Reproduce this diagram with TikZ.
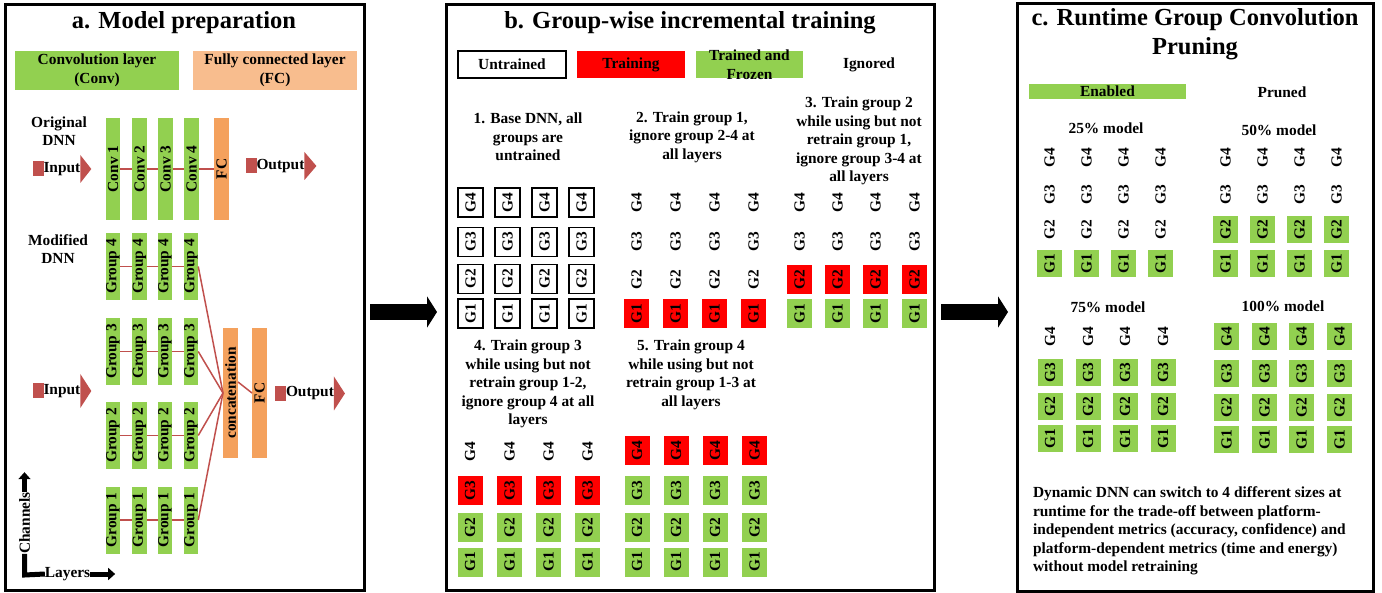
\documentclass[tikz,border=0pt]{standalone}
\usepackage{fontspec}
\setmainfont{Liberation Serif}
\usetikzlibrary{arrows.meta,calc}
\definecolor{ggreen}{HTML}{92D050}
\definecolor{lorange}{HTML}{F8BD8E}
\definecolor{dorange}{HTML}{F4A15D}
\definecolor{dred}{HTML}{C0504D}
\newcommand\bodyfont{\fontsize{15.4}{18.5}\selectfont\bfseries}
\newcommand\titlefont{\fontsize{24.5}{29.4}\selectfont\bfseries}
\newcommand\ggrid[3]{\foreach \x [count=\i] in {#2} {\foreach \y/\g/\s in {#3} {\node[\s] (#1-\i-\g) at (\x,\y) {G\g};}}}
\begin{document}
\begin{tikzpicture}[x=1pt,y=-1pt,
  every node/.style={font=\bodyfont, inner sep=0pt, outer sep=0pt},
  panel/.style={draw=black, line width=3pt},
  title/.style={font=\titlefont, align=center},
  txt/.style={align=center},
  legbox/.style={minimum width=164pt, minimum height=39pt},
  cbar/.style={fill=ggreen, minimum width=14.5pt, minimum height=102pt},
  fbar/.style={fill=dorange, minimum width=15pt, minimum height=102pt},
  gbar/.style={fill=ggreen, minimum width=14.5pt, minimum height=67pt},
  tbar/.style={fill=dorange, minimum width=15pt, minimum height=130pt},
  vlab/.style={rotate=90},
  conn/.style={draw=dred, line width=1.5pt},
  iosq/.style={fill=dred, minimum width=11pt, minimum height=15pt},
  gbox/.style={rotate=90, minimum width=29pt, minimum height=25pt},
  untr/.style={gbox, draw=black, line width=1.3pt, fill=white},
  trn/.style={gbox, fill=red},
  frz/.style={gbox, fill=ggreen},
  ign/.style={gbox},
  ignc/.style={gbox, minimum width=27pt},
  frzc/.style={frz, minimum width=27pt},
  bigarrow/.style={line width=16pt, -{Triangle[width=31pt,length=10pt]}},
  axisline/.style={line width=5pt},
]
\useasboundingbox (0,0) rectangle (1382,593);

% ---------------- panel a ----------------
\node[panel, minimum width=359pt, minimum height=585pt] (pa) at (184.5,297.5) {};
\node[title] (ta) at (184,23) {a. Model preparation};
\node[legbox, fill=ggreen, txt] (lconv) at (97,70.5) {Convolution layer\\(Conv)};
\node[legbox, fill=lorange, txt] (lfc) at (275,70.5) {Fully connected layer\\(FC)};

\node[txt] (orig) at (59,131) {Original\\DNN};
\foreach \x [count=\i] in {113,139.5,165.5,191.5} {
  \node[cbar] (conv\i) at (\x,169) {};
  \node[vlab] (convt\i) at (conv\i) {Conv \i};
}
\node[fbar] (fc1) at (221.5,169) {};
\node[vlab] (fc1t) at (fc1) {FC};
\foreach \i/\j in {1/2,2/3,3/4} \draw[conn] (conv\i) -- (conv\j);
\draw[conn] (conv4) -- (fc1);

\node[iosq] (isq1) at (38,169) {};
\node[anchor=west] (in1) at (isq1.east) {Input};
\fill[dred] (in1.east) ++(0,-14) -- ++(11,14) -- ++(-11,14) -- cycle;
\node[iosq] (osq1) at (251,166) {};
\node[anchor=west] (out1) at (osq1.east) {Output};
\fill[dred] (out1.east) ++(0,-14) -- ++(12,14) -- ++(-12,14) -- cycle;

\node[txt] (mod) at (58,249) {Modified\\DNN};
\foreach \y/\g in {266.5/4, 351.5/3, 435.5/2, 520/1} {
  \foreach \x [count=\i] in {113,139.5,165,191} {
    \node[gbar] (g\g-\i) at (\x,\y) {};
    \node[vlab] (gt\g-\i) at (g\g-\i) {Group \g};
  }
  \foreach \i/\j in {1/2,2/3,3/4} \draw[conn] (g\g-\i) -- (g\g-\j);
}
\node[tbar] (cat) at (230.5,393) {};
\node[vlab] (catt) at (cat) {concatenation};
\node[tbar] (fc2) at (259.5,393) {};
\node[vlab] (fc2t) at (fc2) {FC};
\foreach \g in {1,...,4} \draw[conn] (g\g-4.east) -- (cat.west);
\draw[conn] ([yshift=11pt]cat.east) -- (fc2.west);

\node[iosq] (isq2) at (38,391) {};
\node[anchor=west] (in2) at (isq2.east) {Input};
\fill[dred] (in2.east) ++(0,-17) -- ++(11,17) -- ++(-11,17) -- cycle;
\node[iosq] (osq2) at (280.5,393.5) {};
\node[anchor=west] (out2) at (osq2.east) {Output};
\fill[dred] (out2.east) ++(0,-17) -- ++(11,17) -- ++(-11,17) -- cycle;

\coordinate (ax0) at (24.5,575);
\node[vlab] (chan) at (24.5,523) {Channels};
\node (lay) at (67.5,574) {Layers};
\draw[axisline] (chan.west) -- (ax0) -- (lay.west);
\draw[axisline, -{Triangle[width=12pt,length=7pt]}] (chan.east) -- ++(0,-20);
\draw[axisline, -{Triangle[width=12pt,length=7pt]}] (lay.east) -- ++(25,0);

% ---------------- panel b ----------------
\node[panel, minimum width=488pt, minimum height=585pt] (pb) at (690,297.5) {};
\node[title] (tb) at (690,23) {b. Group-wise incremental training};
\node[minimum width=108pt, minimum height=27pt, draw=black, line width=1.5pt] (lun) at (512,64.5) {Untrained};
\node[minimum width=108pt, minimum height=27pt, fill=red] (ltr) at (631,64.5) {Training};
\node[minimum width=107pt, minimum height=27pt, fill=ggreen] (lfz) at (749.5,64.5) {};
\node[txt] (lfzt) at (lfz) {Trained and\\Frozen};
\node (lig) at (869,64.5) {Ignored};

\node[txt] (s1) at (528,137) {1. Base DNN, all\\groups are\\untrained};
\node[txt] (s2) at (692,137) {2. Train group 1,\\ignore group 2-4 at\\all layers};
\node[txt] (s3) at (859,141) {3. Train group 2\\while using but not\\retrain group 1,\\ignore group 3-4 at\\all layers};
\node[txt] (s4) at (528,384) {4. Train group 3\\while using but not\\retrain group 1-2,\\ignore group 4 at all\\layers};
\node[txt] (s5) at (691,375) {5. Train group 4\\while using but not\\retrain group 1-3 at\\all layers};

\ggrid{b1}{470.5,507.5,544.5,581.5}{202.5/4/untr,242/3/untr,279/2/untr,313.5/1/untr}
\ggrid{b2}{636.5,675.5,714.5,753.5}{203/4/ign,242/3/ign,279.5/2/ign,314/1/trn}
\ggrid{b3}{799.5,837.5,875.5,914.5}{203/4/ign,242/3/ign,279.5/2/trn,314/1/frz}
\ggrid{b4}{470,509.5,548.5,587.5}{452/4/ign,490.5/3/trn,527.5/2/frz,562/1/frz}
\ggrid{b5}{637,676,715,754.5}{451/4/trn,490.5/3/frz,527.5/2/frz,562/1/frz}

% ---------------- panel c ----------------
\node[panel, minimum width=356pt, minimum height=587pt] (pc) at (1195,297.5) {};
\node[title] (tc) at (1195,34.5) {c. Runtime Group Convolution\\Pruning};
\node[fill=ggreen, minimum width=157pt, minimum height=15pt] (len) at (1107.5,91.5) {Enabled};
\node (lpr) at (1282,92) {Pruned};
\node (m25) at (1106,128) {25\% model};
\node (m50) at (1279,130) {50\% model};
\node (m75) at (1108,307) {75\% model};
\node (m100) at (1283,306) {100\% model};

\ggrid{c1}{1049.5,1086.5,1123.5,1160.5}{158/4/ignc,195/3/ignc,230/2/ignc,263.5/1/frzc}
\ggrid{c2}{1225.5,1262.5,1299.5,1336.5}{158/4/ignc,195/3/ignc,230/2/frzc,263.5/1/frzc}
\ggrid{c3}{1050,1088,1125,1163}{337/4/ignc,372.5/3/frzc,407/2/frzc,439/1/frzc}
\ggrid{c4}{1226.5,1264.5,1301.5,1339.5}{337/4/frzc,373.5/3/frzc,408/2/frzc,440/1/frzc}

\node[anchor=west, align=left] (desc) at (1033,531) {Dynamic DNN can switch to 4 different sizes at\\runtime for the trade-off between platform-\\independent metrics (accuracy, confidence) and\\platform-dependent metrics (time and energy)\\without model retraining};

% ---------------- arrows between panels ----------------
\draw[bigarrow] ([xshift=6pt,yshift=-14.5pt]pa.east) -- ([xshift=-9pt,yshift=-14.5pt]pb.west);
\draw[bigarrow] ([xshift=7pt,yshift=-14.5pt]pb.east) -- ([xshift=-9pt,yshift=-14.5pt]pc.west);
\end{tikzpicture}
\end{document}
